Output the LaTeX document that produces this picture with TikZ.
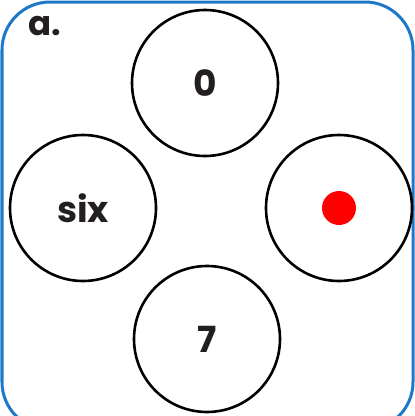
\documentclass[tikz,border=0pt]{standalone}
\usepackage{fontspec}
\setmainfont{Poppins}
\usepackage{tikz}
\definecolor{frameblue}{HTML}{1E78C8}
\definecolor{inkdark}{HTML}{231F20}
\begin{document}
\begin{tikzpicture}[x=1pt,y=-1pt,
  ring/.style={circle,draw=black,line width=2.6pt,minimum size=146pt,inner sep=0pt,
    font=\fontsize{36}{40}\selectfont\bfseries,text=inkdark},
  reddot/.style={circle,fill=red,minimum size=34pt,inner sep=0pt}]
  \useasboundingbox (0,0) rectangle (415,416);
  \begin{scope}
    \clip (0,0) rectangle (415,416);
    \draw[frameblue,line width=3pt,rounded corners=48pt] (2,2) rectangle (413,430);
  \end{scope}
  \node (tag) [anchor=base west,font=\fontsize{34}{40}\selectfont\bfseries,text=inkdark,inner sep=0pt] at (28,35) {a.};
  \node (top) [ring] at (205,83) {0};
  \node (left) [ring] at (83,208) {six};
  \node (right) [ring] at (339,208) {};
  \node (bottom) [ring] at (207,339) {7};
  \node (dot) [reddot] at (right) {};
\end{tikzpicture}
\end{document}
